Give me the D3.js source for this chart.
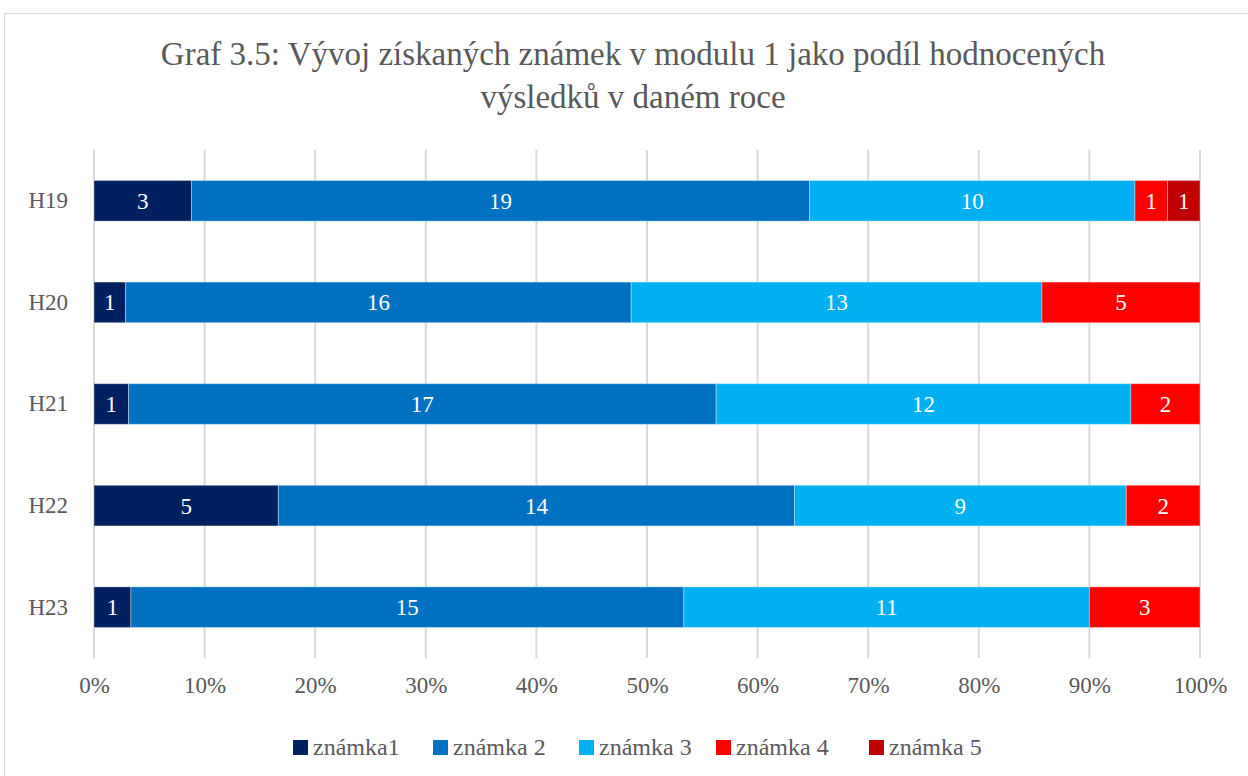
<!DOCTYPE html>
<html><head><meta charset="utf-8">
<script src="https://cdn.jsdelivr.net/npm/d3@7"></script>
<style>body{margin:0;background:#fff}svg{display:block}</style>
</head><body><svg id="c" width="1248" height="776"></svg>
<script>
const categories = ["H19","H20","H21","H22","H23"];
const seriesNames = ["známka1","známka 2","známka 3","známka 4","známka 5"];
const znamka1 = [3,1,1,5,1];
const znamka2 = [19,16,17,14,15];
const znamka3 = [10,13,12,9,11];
const znamka4 = [1,5,2,2,3];
const znamka5 = [1,0,0,0,0];
const colors = ["#002060","#0070C0","#00B0F0","#FF0000","#C00000"];
const tickValues = [0,0.1,0.2,0.3,0.4,0.5,0.6,0.7,0.8,0.9,1];
const title = ["Graf 3.5: Vývoj získaných známek v modulu 1 jako podíl hodnocených","výsledků v daném roce"];

const series = [znamka1,znamka2,znamka3,znamka4,znamka5];
const font = "'Liberation Serif', 'DejaVu Serif', serif";
const svg = d3.select("#c");
svg.append("rect").attr("x",4.5).attr("y",13.5).attr("width",1260).attr("height",800)
  .attr("fill","#fff").attr("stroke","#d9d9d9").attr("stroke-width",1);

svg.append("g").selectAll("text").data(title).join("text")
  .attr("x",633).attr("y",(d,i)=>65+i*43).attr("text-anchor","middle")
  .attr("font-family",font).attr("font-size",33).attr("fill","#595959").text(d=>d);

const x = d3.scaleLinear().domain([0,1]).range([94,1200]);
const y = d3.scaleBand().domain(categories).range([150,658]).paddingInner(0.6).paddingOuter(0.3);

// grid
svg.append("g").selectAll("line").data(tickValues).join("line")
  .attr("x1",d=>x(d)).attr("x2",d=>x(d)).attr("y1",150).attr("y2",658)
  .attr("stroke","#d9d9d9").attr("stroke-width",2);

// stacked data
const rows = categories.map((c,i)=>{
  const vals = series.map(s=>s[i]);
  const tot = d3.sum(vals);
  let acc = 0;
  return vals.map((v,k)=>{const r={cat:c,k,v,x0:acc/tot,x1:(acc+v)/tot}; acc+=v; return r;});
}).flat().filter(d=>d.v>0);

svg.append("g").selectAll("rect").data(rows).join("rect")
  .attr("x",d=>x(d.x0)).attr("width",d=>x(d.x1)-x(d.x0))
  .attr("y",d=>y(d.cat)).attr("height",y.bandwidth())
  .attr("fill",d=>colors[d.k]).attr("stroke","#fff").attr("stroke-opacity",0.35).attr("stroke-width",1);

svg.append("g").selectAll("text").data(rows).join("text")
  .attr("x",d=>(x(d.x0)+x(d.x1))/2).attr("y",d=>y(d.cat)+y.bandwidth()/2+8)
  .attr("text-anchor","middle").attr("font-family",font).attr("font-size",23)
  .attr("fill","#fff").text(d=>d.v);

// y axis labels
const ya = svg.append("g").attr("transform","translate(94,0)")
  .call(d3.axisLeft(y).tickSize(0).tickPadding(26));
ya.select(".domain").remove();
ya.selectAll("text").attr("font-family",font).attr("font-size",23).attr("fill","#595959");

// x axis labels
const xa = svg.append("g").attr("transform","translate(0,658)")
  .call(d3.axisBottom(x).tickValues(tickValues).tickFormat(d3.format(".0%")).tickSize(0).tickPadding(19));
xa.select(".domain").remove();
xa.selectAll("text").attr("font-family",font).attr("font-size",23).attr("fill","#595959");

// legend
const legX = [293,433,579,716,869];
const lg = svg.append("g").selectAll("g").data(seriesNames).join("g")
  .attr("transform",(d,i)=>`translate(${legX[i]},740)`);
lg.append("rect").attr("width",15).attr("height",15).attr("fill",(d,i)=>colors[i]);
lg.append("text").attr("x",20).attr("y",15).attr("font-family",font).attr("font-size",24)
  .attr("fill","#595959").text(d=>d);
</script></body></html>
